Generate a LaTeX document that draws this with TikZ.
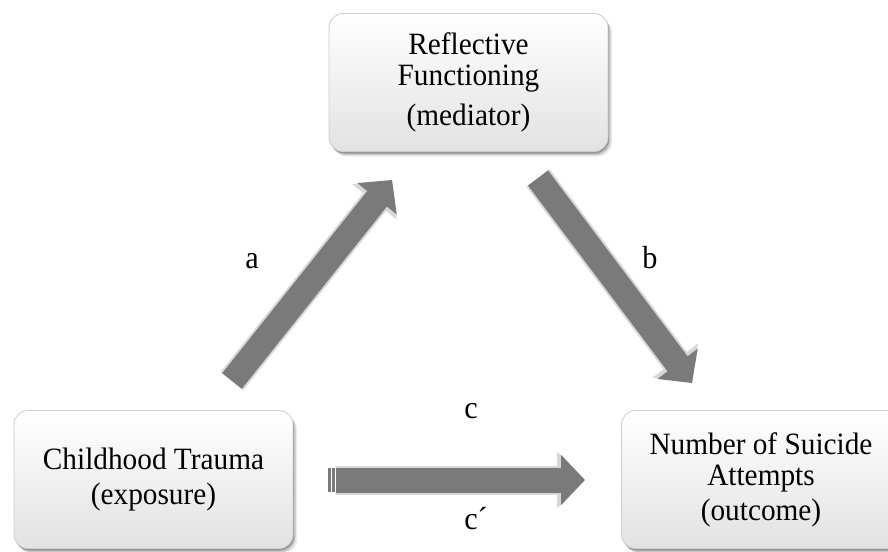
\documentclass[tikz,border=0pt]{standalone}
\usepackage{fontspec}
\setmainfont{Liberation Serif}[FakeStretch=0.945]
\usetikzlibrary{arrows.meta,shadows}
\definecolor{arrowgray}{RGB}{122,122,122}
\definecolor{arrowshade}{RGB}{215,215,215}
\definecolor{boxbot}{RGB}{226,226,226}
\definecolor{boxedge}{RGB}{205,205,205}
\tikzset{
  mbox/.style={draw=boxedge, line width=0.8pt, rounded corners=14pt,
    top color=white, bottom color=boxbot,
    minimum width=279pt, minimum height=138pt, align=center, inner sep=0pt,
    font=\fontsize{31}{31}\selectfont,
    drop shadow={shadow xshift=4pt, shadow yshift=-5pt, fill=black, opacity=0.08},
    drop shadow={shadow xshift=2.5pt, shadow yshift=-3.5pt, fill=black, opacity=0.15},
    drop shadow={shadow xshift=1pt, shadow yshift=-2pt, fill=black, opacity=0.25}},
  bigarrow/.style={draw=arrowgray, line width=25pt, -{Triangle[width=49pt,length=24pt]}},
  arrowglow/.style={draw=arrowshade, line width=29pt, -{Triangle[width=55pt,length=28pt]}},
  lbl/.style={font=\fontsize{32}{31}\selectfont, anchor=base, inner sep=0pt},
}
\begin{document}
\begin{tikzpicture}[x=1pt,y=-1pt]
\useasboundingbox (0,0) rectangle (888,551);
\fill[white] (0,0) rectangle (888,551);
\begin{scope}
\clip (0,0) rectangle (888,551);
% boxes
\node[mbox] (rf) at (468.5,82.5) {Reflective\\Functioning\\[9pt](mediator)};
\node[mbox] (ct) at (153.5,479.5) {Childhood Trauma\\[4pt](exposure)};
\node[mbox] (ns) at (761,479.5) {Number of Suicide\\Attempts\\[4pt](outcome)};
% connector end points
\coordinate (a0) at (232,381);
\coordinate (a1) at (392,180);
\coordinate (b0) at (538,178);
\coordinate (b1) at (692,383);
\coordinate (c0) at (336,480);
\coordinate (c1) at (585,480);
% soft glow behind arrows
\begin{scope}[shift={(1.5,2)}]
\draw[arrowglow] (a0) -- (a1);
\draw[arrowglow] (b0) -- (b1);
\draw[arrowglow] (c0) -- (c1);
\end{scope}
% arrows
\draw[bigarrow] (a0) -- (a1);
\draw[bigarrow] (b0) -- (b1);
\draw[bigarrow] (c0) -- (c1);
\fill[arrowgray] (328,468) rectangle (330.5,492);
\fill[arrowgray] (332,468) rectangle (334.5,492);
% labels
\node[lbl] (la) at (252,268) {a};
\node[lbl] (lb) at (650,268) {b};
\node[lbl] (lc) at (471,418) {c};
\node[lbl] (lcp) at (476,529) {c´};
\end{scope}
\end{tikzpicture}
\end{document}
